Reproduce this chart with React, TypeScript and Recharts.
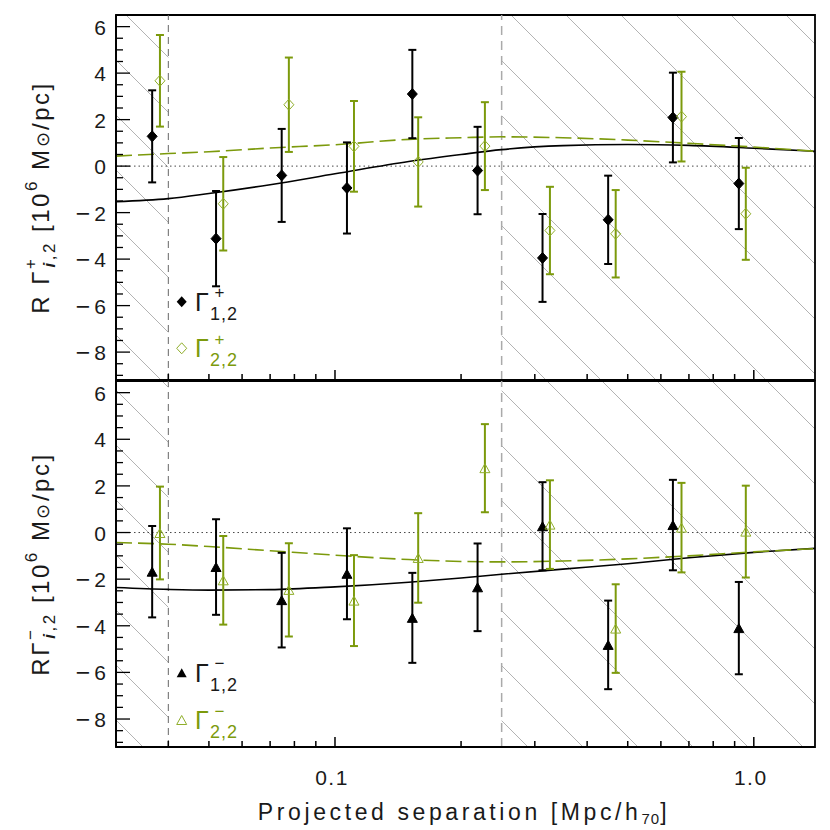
import React from "react";
import {
  ComposedChart, XAxis, YAxis, Scatter, Line, ErrorBar, ReferenceArea, ReferenceLine, Legend,
} from "recharts";

// ---------- data ----------
const sepGamma1 = [0.0366, 0.052, 0.0746, 0.1068, 0.153, 0.219, 0.313, 0.449, 0.641, 0.921];
const sepGamma2 = [0.0382, 0.0541, 0.0776, 0.111, 0.158, 0.228, 0.326, 0.468, 0.672, 0.957];

const plusG1 = [1.28, -3.12, -0.4, -0.94, 3.1, -0.19, -3.95, -2.31, 2.09, -0.75];
const plusG1Err = [1.98, 2.05, 2.0, 1.96, 1.9, 1.88, 1.89, 1.9, 1.93, 1.96];
const plusG2 = [3.67, -1.62, 2.64, 0.85, 0.18, 0.86, -2.77, -2.91, 2.13, -2.05];
const plusG2Err = [1.97, 2.01, 2.03, 1.95, 1.92, 1.89, 1.88, 1.88, 1.93, 1.98];

const minusG1 = [-1.68, -1.48, -2.9, -1.77, -3.66, -2.35, 0.27, -4.82, 0.32, -4.1];
const minusG1Err = [1.96, 2.05, 2.03, 1.95, 1.93, 1.88, 1.89, 1.9, 1.94, 1.98];
const minusG2 = [-0.02, -2.05, -2.46, -2.92, -1.09, 2.76, 0.34, -4.12, 0.21, 0.04];
const minusG2Err = [1.99, 1.9, 2.0, 1.95, 1.92, 1.89, 1.9, 1.9, 1.92, 1.97];

const modelSep = [0.03, 0.04, 0.05, 0.07, 0.1, 0.15, 0.2, 0.25, 0.35, 0.5, 0.7, 1.0, 1.4];
const modelPlus1 = [-1.53, -1.4, -1.18, -0.8, -0.33, 0.2, 0.5, 0.71, 0.88, 0.93, 0.89, 0.77, 0.64];
const modelPlus2 = [0.43, 0.54, 0.62, 0.78, 0.92, 1.15, 1.22, 1.26, 1.22, 1.12, 0.98, 0.82, 0.64];
const modelMinus1 = [-2.36, -2.44, -2.47, -2.45, -2.33, -2.13, -1.95, -1.79, -1.57, -1.34, -1.08, -0.85, -0.68];
const modelMinus2 = [-0.43, -0.5, -0.6, -0.78, -0.97, -1.16, -1.24, -1.26, -1.22, -1.13, -1.0, -0.83, -0.69];

const xTicks = [0.04, 0.05, 0.06, 0.07, 0.08, 0.09, 0.1, 0.2, 0.3, 0.4, 0.5, 0.6, 0.7, 0.8, 0.9, 1.0];
const xMajorTicks = [0.1, 1.0];
const xTickLabels = ["0.1", "1.0"];
const yTicks = [-9, -8.5, -8, -7.5, -7, -6.5, -6, -5.5, -5, -4.5, -4, -3.5, -3, -2.5, -2, -1.5, -1, -0.5,
  0, 0.5, 1, 1.5, 2, 2.5, 3, 3.5, 4, 4.5, 5, 5.5, 6];
const yMajorTicks = [-8, -6, -4, -2, 0, 2, 4, 6];
const xDomain = [0.03, 1.4];
const yDomain = [-9.2, 6.5];
const innerLimit = 0.04;
const outerLimit = 0.25;

const pts = (xs: number[], ys: number[], es: number[]) => xs.map((x, i) => ({ x, y: ys[i], err: es[i] }));
const curve = (ys: number[]) => modelSep.map((x, i) => ({ x, y: ys[i] }));

const plus1Data = pts(sepGamma1, plusG1, plusG1Err);
const plus2Data = pts(sepGamma2, plusG2, plusG2Err);
const minus1Data = pts(sepGamma1, minusG1, minusG1Err);
const minus2Data = pts(sepGamma2, minusG2, minusG2Err);

// ---------- style ----------
const FONT = "'Liberation Sans', Arial, sans-serif";
const GREEN = "#7c9a0c";
const GREEN_M = "#8fae2a";
const TXT = "#1a1a1a";
const TW = 1.5; // tick mark thickness

const YTickLeft = (p: any) => {
  const v = p.payload.value;
  const major = yMajorTicks.includes(v);
  return (
    <g>
      <line x1={p.x} x2={p.x + (major ? 14 : 7)} y1={p.y} y2={p.y} stroke="#000" strokeWidth={1.3} />
      {major && (
        <text x={p.x - 10} y={p.y} textAnchor="end" dominantBaseline="central" fontSize={21} fontFamily={FONT} fill={TXT}>
          {v < 0 && <tspan fontSize={25}>{"\u2212"}</tspan>}
          <tspan dx={v < 0 ? 4 : 0}>{Math.abs(v)}</tspan>
        </text>
      )}
    </g>
  );
};
const makeXTickBottom = (labels: boolean) => (p: any) => {
  const mi = xMajorTicks.indexOf(p.payload.value);
  const len = mi >= 0 ? 10 : 6;
  return (
    <g>
      <rect x={p.x - TW / 2} y={p.y - len} width={TW} height={len} fill="#000" />
      {labels && mi >= 0 && (
        <text x={p.x - 3} y={p.y + 30} textAnchor="middle" dominantBaseline="central" fontSize={21} fontFamily={FONT} fill={TXT} letterSpacing={1.5}>
          {xTickLabels[mi]}
        </text>
      )}
    </g>
  );
};

const Diamond = (fill: string, stroke: string, open: boolean) => (p: any) => (
  <polygon
    points={`${p.cx},${p.cy - 5.5} ${p.cx + 5},${p.cy} ${p.cx},${p.cy + 5.5} ${p.cx - 5},${p.cy}`}
    fill={open ? "none" : fill}
    stroke={stroke}
    strokeWidth={1}
  />
);
const Triangle = (fill: string, stroke: string, open: boolean) => (p: any) => (
  <polygon
    points={`${p.cx - 5},${p.cy + 4.5} ${p.cx},${p.cy - 4.5} ${p.cx + 5},${p.cy + 4.5}`}
    fill={open ? "none" : fill}
    stroke={stroke}
    strokeWidth={1}
  />
);

const YLabel = (sep: string, sup: string) => (props: any) => {
  const vb = props.viewBox;
  const cy = vb.y + vb.height / 2;
  return (
    <text
      transform={`translate(40,${cy}) rotate(-90)`}
      textAnchor="middle"
      dominantBaseline="central"
      fontFamily={FONT}
      fontSize={24}
      fill={TXT}
      letterSpacing={2.5}
    >
      <tspan>{`R${sep}\u0393`}</tspan>
      <tspan dy={-10} fontSize={17}>{sup}</tspan>
      <tspan dx={-11} dy={19} fontSize={17} fontStyle="italic" fontWeight="bold">i</tspan>
      <tspan fontSize={17}>,2</tspan>
      <tspan dy={-9}>{" [10"}</tspan>
      <tspan dy={-9} fontSize={17}>6</tspan>
      <tspan dy={9}>{" M"}</tspan>
      <tspan dy={3} fontSize={18}>{"\u2299"}</tspan>
      <tspan dy={-3}>{"/pc]"}</tspan>
    </text>
  );
};

const XTitle = (props: any) => {
  const vb = props.viewBox;
  return (
    <text x={464} y={vb.y + 73} textAnchor="middle" fontFamily={FONT} fontSize={23} fill={TXT} letterSpacing={3.6}>
      <tspan>Projected separation [Mpc/h</tspan>
      <tspan dy={4} fontSize={15} letterSpacing={1}>70</tspan>
      <tspan dy={-4}>]</tspan>
    </text>
  );
};

const LegendItems = (items: { y: number; color: string; mark: string; sup: string; sub: string }[], h: number) => () => (
  <svg width={830} height={h} style={{ position: "absolute", left: 0, top: 0 }}>
    {items.map((it, i) => (
      <g key={i}>
        {it.mark === "dF" && <polygon points={`181.7,${it.y - 5.5} 186.7,${it.y} 181.7,${it.y + 5.5} 176.7,${it.y}`} fill="#000" />}
        {it.mark === "dO" && <polygon points={`181.7,${it.y - 5.5} 186.7,${it.y} 181.7,${it.y + 5.5} 176.7,${it.y}`} fill="none" stroke={GREEN_M} />}
        {it.mark === "tF" && <polygon points={`176.7,${it.y + 4.5} 181.7,${it.y - 4.5} 186.7,${it.y + 4.5}`} fill="#000" />}
        {it.mark === "tO" && <polygon points={`176.7,${it.y + 4.5} 181.7,${it.y - 4.5} 186.7,${it.y + 4.5}`} fill="none" stroke={GREEN_M} />}
        <text fontFamily={FONT} fill={it.color}>
          <tspan x={195} y={it.y + 9} fontSize={25}>{"\u0393"}</tspan>
          <tspan x={214.5} y={it.y - 3.5} fontSize={17}>{it.sup}</tspan>
          <tspan x={210} y={it.y + 18} fontSize={18} letterSpacing={1}>{it.sub}</tspan>
        </text>
      </g>
    ))}
  </svg>
);

const Hatch = () => (
  <svg width={0} height={0} style={{ position: "absolute" }}>
    <defs>
      <pattern id="hatchTop" patternUnits="userSpaceOnUse" width={55} height={55}>
        <path d="M-2,52 L3,57 M-1,-2 L57,56" stroke="#a0a0a0" strokeWidth={0.8} fill="none" />
      </pattern>
      <pattern id="hatchBot" patternUnits="userSpaceOnUse" width={55} height={55}>
        <path d="M-2,2 L53,57 M49,-2 L57,6" stroke="#a0a0a0" strokeWidth={0.8} fill="none" />
      </pattern>
    </defs>
  </svg>
);

type PanelProps = {
  height: number;
  marginTop: number;
  bottomAxisHeight: number;
  showXLabels: boolean;
  hatchId: string;
  d1: any[];
  d2: any[];
  m1: number[];
  m2: number[];
  shape1: any;
  shape2: any;
  ylabel: any;
  legend: any;
};

const Panel = (p: PanelProps) => (
  <ComposedChart width={830} height={p.height} margin={{ top: p.marginTop, right: 15, bottom: 0, left: 0 }}>
    <XAxis
      xAxisId="b"
      dataKey="x"
      type="number"
      scale="log"
      domain={xDomain}
      allowDataOverflow
      ticks={xTicks}
      interval={0}
      tickSize={0}
      tickMargin={0}
      height={p.bottomAxisHeight}
      tick={makeXTickBottom(p.showXLabels)}
      axisLine={{ stroke: "#000", strokeWidth: 1.8 }}
      tickLine={false}
      label={p.showXLabels ? { content: XTitle } : undefined}
    />
    <YAxis
      yAxisId="l"
      dataKey="y"
      type="number"
      domain={yDomain}
      allowDataOverflow
      ticks={yTicks}
      interval={0}
      tickSize={0}
      tickMargin={0}
      width={116}
      tick={YTickLeft}
      axisLine={{ stroke: "#000", strokeWidth: 1.8 }}
      tickLine={false}
      label={{ content: p.ylabel }}
    />
    <ReferenceArea xAxisId="b" yAxisId="l" x1={xDomain[0]} x2={innerLimit} fill={`url(#${p.hatchId})`} fillOpacity={1} stroke="none" />
    <ReferenceArea xAxisId="b" yAxisId="l" x1={outerLimit} x2={xDomain[1]} fill={`url(#${p.hatchId})`} fillOpacity={1} stroke="none" />
    <ReferenceLine xAxisId="b" yAxisId="l" x={innerLimit} stroke="#666" strokeWidth={1} strokeDasharray="7 5" />
    <ReferenceLine xAxisId="b" yAxisId="l" x={outerLimit} stroke="#aaa" strokeWidth={1.5} strokeDasharray="9 6" />
    <ReferenceLine xAxisId="b" yAxisId="l" y={0} stroke="#333" strokeWidth={0.9} strokeDasharray="1.5 3" />
    <Line xAxisId="b" yAxisId="l" data={curve(p.m1)} dataKey="y" type="monotone" stroke="#000" strokeWidth={1.6} dot={false} isAnimationActive={false} />
    <Line xAxisId="b" yAxisId="l" data={curve(p.m2)} dataKey="y" type="monotone" stroke={GREEN} strokeWidth={1.6} strokeDasharray="16 6" dot={false} isAnimationActive={false} />
    <Scatter xAxisId="b" yAxisId="l" data={p.d1} dataKey="y" shape={p.shape1} isAnimationActive={false}>
      <ErrorBar dataKey="err" direction="y" width={4} stroke="#000" strokeWidth={2} />
    </Scatter>
    <Scatter xAxisId="b" yAxisId="l" data={p.d2} dataKey="y" shape={p.shape2} isAnimationActive={false}>
      <ErrorBar dataKey="err" direction="y" width={4} stroke={GREEN} strokeWidth={2} />
    </Scatter>
    <ReferenceArea
      xAxisId="b"
      yAxisId="l"
      ifOverflow="visible"
      x1={xDomain[0]}
      x2={xDomain[1]}
      y1={yDomain[0]}
      y2={yDomain[1]}
      fill="none"
      stroke="#000"
      strokeWidth={1.8}
    />
    <Legend
      layout="vertical"
      align="center"
      verticalAlign="middle"
      content={p.legend}
      wrapperStyle={{ left: 0, top: 0, width: 830, height: p.height, pointerEvents: "none" }}
    />
  </ComposedChart>
);

export default function App() {
  return (
    <div style={{ position: "absolute", left: 0, top: 0, width: 830, height: 830, background: "#fff" }}>
      <Hatch />
      <div style={{ position: "absolute", left: 0, top: 0 }}>
        <Panel
          height={381}
          marginTop={15}
          bottomAxisHeight={1}
          showXLabels={false}
          hatchId="hatchTop"
          d1={plus1Data}
          d2={plus2Data}
          m1={modelPlus1}
          m2={modelPlus2}
          shape1={Diamond("#000", "#000", false)}
          shape2={Diamond(GREEN_M, GREEN_M, true)}
          ylabel={YLabel(" ", "+")}
          legend={LegendItems(
            [
              { y: 301.7, color: TXT, mark: "dF", sup: "+", sub: "1,2" },
              { y: 348.3, color: GREEN, mark: "dO", sup: "+", sub: "2,2" },
            ],
            381
          )}
        />
      </div>
      <div style={{ position: "absolute", left: 0, top: 380 }}>
        <Panel
          height={450}
          marginTop={1}
          bottomAxisHeight={83}
          showXLabels={true}
          hatchId="hatchBot"
          d1={minus1Data}
          d2={minus2Data}
          m1={modelMinus1}
          m2={modelMinus2}
          shape1={Triangle("#000", "#000", false)}
          shape2={Triangle(GREEN_M, GREEN_M, true)}
          ylabel={YLabel("", "\u2212")}
          legend={LegendItems(
            [
              { y: 292.7, color: TXT, mark: "tF", sup: "\u2212", sub: "1,2" },
              { y: 340, color: GREEN, mark: "tO", sup: "\u2212", sub: "2,2" },
            ],
            450
          )}
        />
      </div>
    </div>
  );
}
